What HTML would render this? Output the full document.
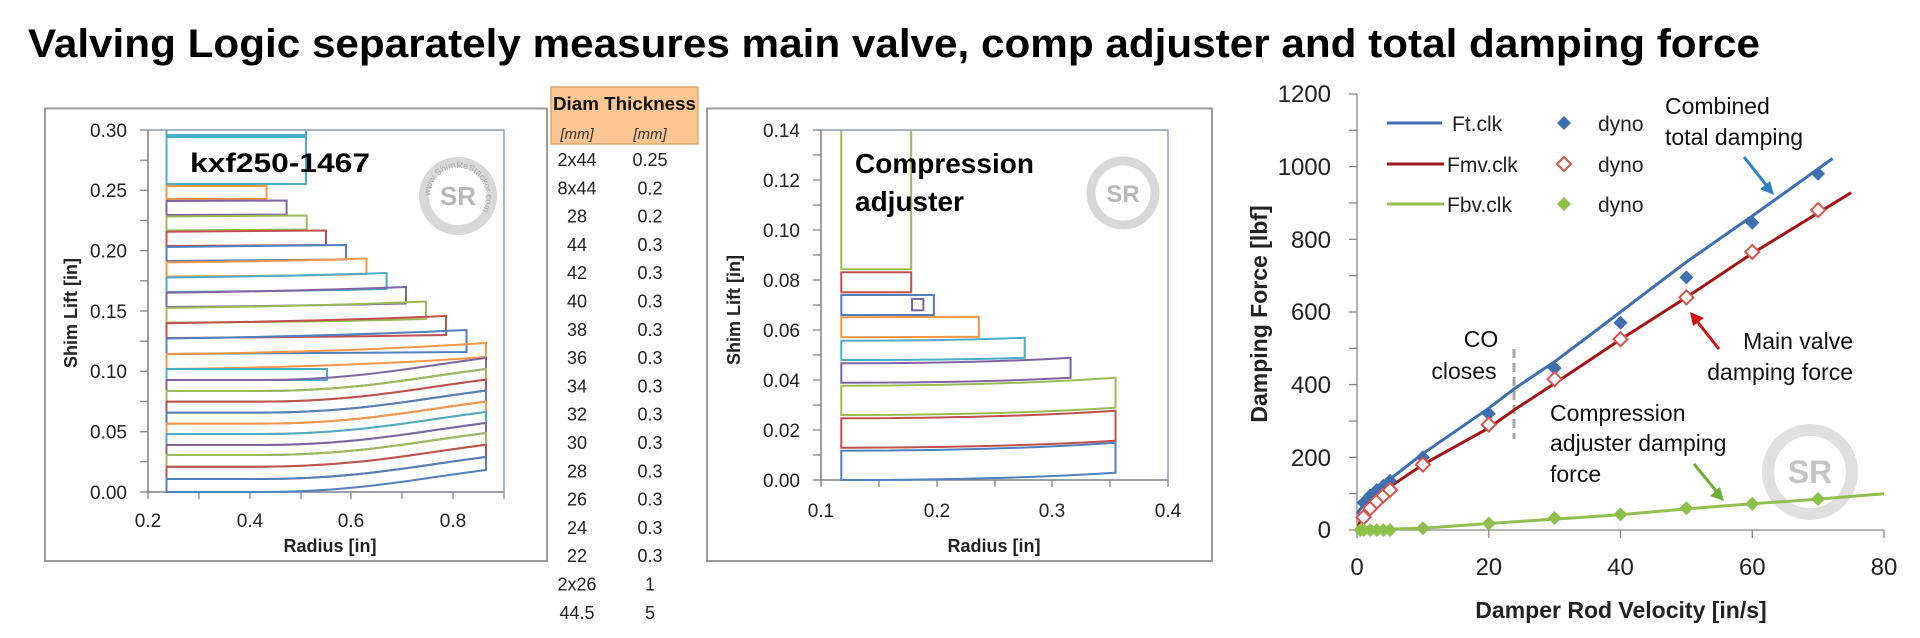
<!DOCTYPE html>
<html><head><meta charset="utf-8"><style>
html,body{margin:0;padding:0;background:#fff;}
svg{display:block;}
text{font-family:"Liberation Sans",sans-serif;}
</style></head><body>
<svg width="1920" height="638" viewBox="0 0 1920 638" xmlns="http://www.w3.org/2000/svg">
<defs>
<path id="dm" d="M0,-7 L7,0 L0,7 L-7,0Z"/>
<path id="ring1" d="M0,0 m-28,0 a28,28 0 1,1 56,0 a28,28 0 1,1 -56,0"/>
</defs>
<text x="28" y="57" font-size="40" font-weight="bold" textLength="1732" lengthAdjust="spacingAndGlyphs" fill="#000">Valving Logic separately measures main valve, comp adjuster and total damping force</text>

<rect x="45" y="108.5" width="502" height="452.5" fill="#fff" stroke="#9a9a9a" stroke-width="2"/>
<rect x="148" y="130" width="356" height="362" fill="none" stroke="#8a9bb5" stroke-width="1.5"/>
<g stroke="#868686" stroke-width="1.3">
<line x1="148" y1="130" x2="148" y2="492"/>
<line x1="148" y1="492" x2="504" y2="492"/>
<line x1="140" y1="130" x2="148" y2="130"/><line x1="140" y1="160.2" x2="148" y2="160.2"/>
<line x1="140" y1="190.3" x2="148" y2="190.3"/><line x1="140" y1="220.5" x2="148" y2="220.5"/>
<line x1="140" y1="250.7" x2="148" y2="250.7"/><line x1="140" y1="280.8" x2="148" y2="280.8"/>
<line x1="140" y1="311" x2="148" y2="311"/><line x1="140" y1="341.2" x2="148" y2="341.2"/>
<line x1="140" y1="371.3" x2="148" y2="371.3"/><line x1="140" y1="401.5" x2="148" y2="401.5"/>
<line x1="140" y1="431.7" x2="148" y2="431.7"/><line x1="140" y1="461.8" x2="148" y2="461.8"/>
<line x1="140" y1="492" x2="148" y2="492"/>
<line x1="148" y1="492" x2="148" y2="499"/><line x1="199" y1="492" x2="199" y2="499"/>
<line x1="250" y1="492" x2="250" y2="499"/><line x1="301" y1="492" x2="301" y2="499"/>
<line x1="351" y1="492" x2="351" y2="499"/><line x1="402" y1="492" x2="402" y2="499"/>
<line x1="453" y1="492" x2="453" y2="499"/><line x1="504" y1="492" x2="504" y2="499"/>
</g>
<g font-size="19" fill="#222" text-anchor="end">
<text x="127" y="137">0.30</text><text x="127" y="197">0.25</text><text x="127" y="257.5">0.20</text>
<text x="127" y="318">0.15</text><text x="127" y="378">0.10</text><text x="127" y="438.5">0.05</text>
<text x="127" y="499">0.00</text>
</g>
<g font-size="19" fill="#222" text-anchor="middle">
<text x="148" y="527">0.2</text><text x="250" y="527">0.4</text><text x="351" y="527">0.6</text><text x="453" y="527">0.8</text>
</g>
<text x="330" y="552" font-size="18" font-weight="bold" text-anchor="middle" fill="#222">Radius [in]</text>
<text transform="translate(77,313) rotate(-90)" font-size="18" font-weight="bold" text-anchor="middle" fill="#222">Shim Lift [in]</text>

<g fill="none" stroke-width="2">
<path d="M166.5,130 L166.5,135 L306,135 L306,130" stroke="#4BACC6"/>
<rect x="166.5" y="137" width="139.5" height="47" stroke="#4BACC6"/>
<path d="M166.5,186 L266.5,186 L266.5,199 L166.5,199Z" stroke="#F79646"/>
<path d="M166.5,201 L286.6,200.5 L286.6,214.5 L166.5,215Z" stroke="#8064A2"/>
<path d="M166.5,216.5 L306.7,215.5 L306.7,229.5 L166.5,230.5Z" stroke="#9BBB59"/>
<path d="M166.5,231.7 L326,230.5 L326,245 L166.5,246Z" stroke="#C0504D"/>
<path d="M166.5,247 L346,245 L346,259.5 L166.5,261Z" stroke="#4F81BD"/>
<path d="M166.5,262.3 Q300,261 366.5,258.5 L366.5,274 Q300,276 166.5,276.5Z" stroke="#F79646"/>
<path d="M166.5,277.5 Q300,276 386.6,273 L386.6,289 Q300,291 166.5,292Z" stroke="#4BACC6"/>
<path d="M166.5,292.8 Q300,291 406,287 L406,303.5 Q300,306 166.5,307Z" stroke="#8064A2"/>
<path d="M166.5,308 Q320,306 426,301.5 L426,319 Q320,322 166.5,322.5Z" stroke="#9BBB59"/>
<path d="M166.5,323.3 Q330,321 446,316 L446,335 Q330,337 166.5,338Z" stroke="#C0504D"/>
<path d="M166.5,338.5 Q340,336 466.5,330 L466.5,352 Q340,353 166.5,354Z" stroke="#4F81BD"/>
<path d="M166.5,354 Q350,352 486,343 L486,357 Q350,367 166.5,369Z" stroke="#F79646"/>
<path d="M166.5,369 L327,369 L327,380 L166.5,380Z" stroke="#4BACC6"/>
<path d="M166.5,380 L260,380 C360,380 420,366 486,358 L486,369 C420,377 360,391 260,391 L166.5,391Z" stroke="#8064A2"/>
<path d="M166.5,391 L260,391 C360,391 420,377 486,369 L486,379.6 C420,387.6 360,401.6 260,401.6 L166.5,401.6Z" stroke="#9BBB59"/>
<path d="M166.5,401.6 L260,401.6 C360,401.6 420,387.6 486,379.6 L486,390.6 C420,398.6 360,412.6 260,412.6 L166.5,412.6Z" stroke="#C0504D"/>
<path d="M166.5,412.6 L260,412.6 C360,412.6 420,398.6 486,390.6 L486,401.6 C420,409.6 360,423.6 260,423.6 L166.5,423.6Z" stroke="#4F81BD"/>
<path d="M166.5,423.6 L260,423.6 C360,423.6 420,409.6 486,401.6 L486,412 C420,420 360,434 260,434 L166.5,434Z" stroke="#F79646"/>
<path d="M166.5,434 L260,434 C360,434 420,420 486,412 L486,423 C420,431 360,445 260,445 L166.5,445Z" stroke="#4BACC6"/>
<path d="M166.5,445 L260,445 C360,445 420,431 486,423 L486,433 C420,441 360,455 260,455 L166.5,455Z" stroke="#8064A2"/>
<path d="M166.5,455 L260,455 C360,455 420,441 486,433 L486,444.7 C420,452.7 360,466.7 260,466.7 L166.5,466.7Z" stroke="#9BBB59"/>
<path d="M166.5,466.7 L260,466.7 C360,466.7 420,452.7 486,444.7 L486,457 C420,465 360,479 260,479 L166.5,479Z" stroke="#C0504D"/>
<path d="M166.5,479 L260,479 C360,479 420,465 486,457 L486,470 C420,478 360,492 260,492 L166.5,492Z" stroke="#4F81BD"/>
</g>
<text x="190" y="172" font-size="27" font-weight="bold" fill="#000" textLength="180" lengthAdjust="spacingAndGlyphs">kxf250-1467</text>
<g transform="translate(458,196)" fill="#b8b8b8">
<circle r="34" fill="none" stroke="#d8d8d8" stroke-width="10"/>
<text x="0" y="9" font-size="26" font-weight="bold" text-anchor="middle">SR</text>
<text font-size="9" fill="#a8a8a8"><textPath href="#ring1">www.ShimReStackor.com</textPath></text>
</g>

<rect x="551" y="87" width="147" height="57" fill="#FCC692" stroke="#E3A66A" stroke-width="1.5"/>
<text x="553" y="110" font-size="18" font-weight="bold" fill="#111" textLength="143" lengthAdjust="spacingAndGlyphs">Diam Thickness</text>
<g font-family="Liberation Serif,serif" font-style="italic" font-size="15" fill="#333" text-anchor="middle">
<text x="577" y="139">[mm]</text><text x="650" y="139">[mm]</text>
</g>
<g font-size="18" fill="#222" text-anchor="middle">
<text x="577" y="166">2x44</text><text x="650" y="166">0.25</text>
<text x="577" y="194.3">8x44</text><text x="650" y="194.3">0.2</text>
<text x="577" y="222.6">28</text><text x="650" y="222.6">0.2</text>
<text x="577" y="250.9">44</text><text x="650" y="250.9">0.3</text>
<text x="577" y="279.2">42</text><text x="650" y="279.2">0.3</text>
<text x="577" y="307.5">40</text><text x="650" y="307.5">0.3</text>
<text x="577" y="335.8">38</text><text x="650" y="335.8">0.3</text>
<text x="577" y="364.1">36</text><text x="650" y="364.1">0.3</text>
<text x="577" y="392.4">34</text><text x="650" y="392.4">0.3</text>
<text x="577" y="420.7">32</text><text x="650" y="420.7">0.3</text>
<text x="577" y="449">30</text><text x="650" y="449">0.3</text>
<text x="577" y="477.3">28</text><text x="650" y="477.3">0.3</text>
<text x="577" y="505.6">26</text><text x="650" y="505.6">0.3</text>
<text x="577" y="533.9">24</text><text x="650" y="533.9">0.3</text>
<text x="577" y="562.2">22</text><text x="650" y="562.2">0.3</text>
<text x="577" y="590.5">2x26</text><text x="650" y="590.5">1</text>
<text x="577" y="618.8">44.5</text><text x="650" y="618.8">5</text>
</g>

<rect x="707" y="108.5" width="505" height="452.5" fill="#fff" stroke="#9a9a9a" stroke-width="2"/>
<rect x="821" y="130" width="347" height="350" fill="none" stroke="#8a9bb5" stroke-width="1.5"/>
<g stroke="#868686" stroke-width="1.3">
<line x1="821" y1="130" x2="821" y2="480"/><line x1="821" y1="480" x2="1168" y2="480"/>
<line x1="813" y1="130" x2="821" y2="130"/><line x1="813" y1="155" x2="821" y2="155"/>
<line x1="813" y1="180" x2="821" y2="180"/><line x1="813" y1="205" x2="821" y2="205"/>
<line x1="813" y1="230" x2="821" y2="230"/><line x1="813" y1="255" x2="821" y2="255"/>
<line x1="813" y1="280" x2="821" y2="280"/><line x1="813" y1="305" x2="821" y2="305"/>
<line x1="813" y1="330" x2="821" y2="330"/><line x1="813" y1="355" x2="821" y2="355"/>
<line x1="813" y1="380" x2="821" y2="380"/><line x1="813" y1="405" x2="821" y2="405"/>
<line x1="813" y1="430" x2="821" y2="430"/><line x1="813" y1="455" x2="821" y2="455"/>
<line x1="813" y1="480" x2="821" y2="480"/>
<line x1="821" y1="480" x2="821" y2="487"/><line x1="879" y1="480" x2="879" y2="487"/>
<line x1="937" y1="480" x2="937" y2="487"/><line x1="995" y1="480" x2="995" y2="487"/>
<line x1="1052" y1="480" x2="1052" y2="487"/><line x1="1110" y1="480" x2="1110" y2="487"/>
<line x1="1168" y1="480" x2="1168" y2="487"/>
</g>
<g font-size="19" fill="#222" text-anchor="end">
<text x="800" y="137">0.14</text><text x="800" y="187">0.12</text><text x="800" y="237">0.10</text>
<text x="800" y="287">0.08</text><text x="800" y="337">0.06</text><text x="800" y="387">0.04</text>
<text x="800" y="437">0.02</text><text x="800" y="487">0.00</text>
</g>
<g font-size="19" fill="#222" text-anchor="middle">
<text x="821" y="517">0.1</text><text x="937" y="517">0.2</text><text x="1052" y="517">0.3</text><text x="1168" y="517">0.4</text>
</g>
<text x="994" y="552" font-size="18" font-weight="bold" text-anchor="middle" fill="#222">Radius [in]</text>
<text transform="translate(740,310) rotate(-90)" font-size="18" font-weight="bold" text-anchor="middle" fill="#222">Shim Lift [in]</text>
<g fill="none" stroke-width="2">
<path d="M841.3,480 Q1000,480 1115.5,472.7 L1115.5,442.7 Q1000,450.7 841.3,450.7Z" stroke="#4F81BD"/>
<path d="M841.3,447.7 Q1000,447.7 1115.5,440.7 L1115.5,410.7 Q1000,418.3 841.3,418.3Z" stroke="#C0504D"/>
<path d="M841.3,415 Q1000,415 1115.5,407.7 L1115.5,377.7 Q1000,385.7 841.3,385.7Z" stroke="#9BBB59"/>
<path d="M841.3,382.7 Q980,382.7 1070.6,377.7 L1070.6,357.7 Q980,363.3 841.3,363.3Z" stroke="#8064A2"/>
<path d="M841.3,360 Q960,360 1024.7,357.7 L1024.7,337.7 Q960,340.7 841.3,340.7Z" stroke="#4BACC6"/>
<path d="M841.3,337.3 L978.9,336.7 L978.9,316.7 L841.3,317.3Z" stroke="#F79646"/>
<rect x="841.3" y="295" width="92.6" height="20" stroke="#4F81BD"/>
<rect x="912" y="299" width="11.4" height="11.3" stroke="#8064A2"/>
<rect x="841.3" y="272.3" width="69.9" height="20" stroke="#C0504D"/>
<path d="M841.3,130 L841.3,269.3 L911.2,269.3 L911.2,130" stroke="#9BBB59"/>
</g>
<text x="855" y="173" font-size="28" font-weight="bold" fill="#000">Compression</text>
<text x="855" y="211" font-size="28" font-weight="bold" fill="#000">adjuster</text>
<g transform="translate(1123,193)" fill="#b8b8b8">
<circle r="32" fill="none" stroke="#d8d8d8" stroke-width="9"/>
<text x="0" y="9" font-size="24" font-weight="bold" text-anchor="middle">SR</text>
</g>

<g transform="translate(1810,472)" fill="#c4c4c4">
<circle r="42" fill="none" stroke="#e0e0e0" stroke-width="12"/>
<text x="0" y="11" font-size="32" font-weight="bold" text-anchor="middle">SR</text>
</g>
<g stroke="#868686" stroke-width="1.3">
<line x1="1357" y1="94" x2="1357" y2="530"/><line x1="1357" y1="530" x2="1884" y2="530"/>
<line x1="1349" y1="94" x2="1357" y2="94"/><line x1="1349" y1="130.3" x2="1357" y2="130.3"/>
<line x1="1349" y1="166.6" x2="1357" y2="166.6"/><line x1="1349" y1="203" x2="1357" y2="203"/>
<line x1="1349" y1="239.3" x2="1357" y2="239.3"/><line x1="1349" y1="275.6" x2="1357" y2="275.6"/>
<line x1="1349" y1="312" x2="1357" y2="312"/><line x1="1349" y1="348.3" x2="1357" y2="348.3"/>
<line x1="1349" y1="384.6" x2="1357" y2="384.6"/><line x1="1349" y1="421" x2="1357" y2="421"/>
<line x1="1349" y1="457.3" x2="1357" y2="457.3"/><line x1="1349" y1="493.6" x2="1357" y2="493.6"/>
<line x1="1349" y1="530" x2="1357" y2="530"/>
<line x1="1357" y1="530" x2="1357" y2="538"/><line x1="1488.8" y1="530" x2="1488.8" y2="538"/>
<line x1="1620.5" y1="530" x2="1620.5" y2="538"/><line x1="1752.3" y1="530" x2="1752.3" y2="538"/>
<line x1="1884" y1="530" x2="1884" y2="538"/>
</g>
<g font-size="24" fill="#222" text-anchor="end">
<text x="1331" y="102">1200</text><text x="1331" y="175">1000</text><text x="1331" y="248">800</text>
<text x="1331" y="320">600</text><text x="1331" y="393">400</text><text x="1331" y="466">200</text>
<text x="1331" y="538">0</text>
</g>
<g font-size="24" fill="#222" text-anchor="middle">
<text x="1357" y="575">0</text><text x="1488.8" y="575">20</text><text x="1620.5" y="575">40</text>
<text x="1752.3" y="575">60</text><text x="1884" y="575">80</text>
</g>
<text x="1621" y="618" font-size="23" font-weight="bold" text-anchor="middle" fill="#222">Damper Rod Velocity [in/s]</text>
<text transform="translate(1267,314) rotate(-90)" font-size="23" font-weight="bold" text-anchor="middle" fill="#222">Damping Force [lbf]</text>

<line x1="1514" y1="349" x2="1514" y2="439" stroke="#a6a6a6" stroke-width="3" stroke-dasharray="9,5"/>

<g fill="none" stroke-width="3" stroke-linejoin="round">
<polyline stroke="#3E6FB0" points="1357,513.6 1363.6,504.6 1370.2,498 1390,479.1 1422.9,453.7 1488.8,408.2 1515.1,388.2 1554.6,361.7 1587.5,337 1620.5,311.9 1686.4,262 1752.3,216 1832.6,158.5"/>
<polyline stroke="#A31515" points="1357,530 1363.6,512.2 1370.2,504.6 1390,486.7 1422.9,464.6 1488.8,427.9 1515.1,409.3 1554.6,383.5 1620.5,339.5 1686.4,297.4 1752.3,253.4 1851.1,192.7"/>
<polyline stroke="#92C050" points="1357,530 1422.9,528.2 1488.8,523.5 1554.6,519.1 1620.5,514.7 1686.4,508.9 1752.3,503.8 1818.1,499.1 1884,493.7"/>
</g>
<g fill="#3E6FB0">
<use href="#dm" x="1363.6" y="502.7"/><use href="#dm" x="1370.2" y="495.5"/><use href="#dm" x="1376.8" y="490"/>
<use href="#dm" x="1383.4" y="485.7"/><use href="#dm" x="1390" y="480.9"/><use href="#dm" x="1422.9" y="457.3"/>
<use href="#dm" x="1488.8" y="413.7"/><use href="#dm" x="1554.6" y="368.2"/><use href="#dm" x="1620.5" y="322.8"/>
<use href="#dm" x="1686.4" y="277.4"/><use href="#dm" x="1752.3" y="222.8"/><use href="#dm" x="1818.1" y="173.8"/>
</g>
<g fill="#fff" stroke="#D9534F" stroke-width="2">
<use href="#dm" x="1363.6" y="517.3"/><use href="#dm" x="1370.2" y="508.2"/><use href="#dm" x="1376.8" y="501.6"/>
<use href="#dm" x="1383.4" y="495.5"/><use href="#dm" x="1390" y="490"/><use href="#dm" x="1422.9" y="464.6"/>
<use href="#dm" x="1488.8" y="424.6"/><use href="#dm" x="1554.6" y="379.1"/><use href="#dm" x="1620.5" y="339.2"/>
<use href="#dm" x="1686.4" y="297.4"/><use href="#dm" x="1752.3" y="251.9"/><use href="#dm" x="1818.1" y="210.1"/>
</g>
<g fill="#8DC04A">
<use href="#dm" x="1360.3" y="530"/><use href="#dm" x="1363.6" y="530"/><use href="#dm" x="1370.2" y="530"/>
<use href="#dm" x="1376.8" y="530"/><use href="#dm" x="1383.4" y="530"/><use href="#dm" x="1390" y="530"/>
<use href="#dm" x="1422.9" y="528.2"/><use href="#dm" x="1488.8" y="523.5"/><use href="#dm" x="1554.6" y="518"/>
<use href="#dm" x="1620.5" y="514.4"/><use href="#dm" x="1686.4" y="508.2"/><use href="#dm" x="1752.3" y="503.8"/>
<use href="#dm" x="1818.1" y="499.1"/>
</g>
<g stroke-width="3">
<line x1="1387" y1="123" x2="1442" y2="123" stroke="#3E6FB0"/>
<line x1="1387" y1="164" x2="1444" y2="164" stroke="#A31515"/>
<line x1="1387" y1="204" x2="1444" y2="204" stroke="#92C050"/>
</g>
<g font-size="21" fill="#222">
<text x="1452" y="131">Ft.clk</text><text x="1447" y="172">Fmv.clk</text><text x="1447" y="212">Fbv.clk</text>
<text x="1598" y="131">dyno</text><text x="1598" y="172">dyno</text><text x="1598" y="212">dyno</text>
</g>
<use href="#dm" x="1564" y="123" fill="#3E6FB0"/>
<use href="#dm" x="1564" y="164" fill="#fff" stroke="#D9534F" stroke-width="2"/>
<use href="#dm" x="1564" y="204" fill="#8DC04A"/>
<g font-size="23" fill="#111">
<text x="1665" y="114">Combined</text><text x="1665" y="145">total damping</text>
<text x="1481" y="347" text-anchor="middle">CO</text><text x="1464" y="379" text-anchor="middle">closes</text>
<text x="1853" y="349" text-anchor="end">Main valve</text><text x="1853" y="380" text-anchor="end">damping force</text>
<text x="1550" y="421">Compression</text><text x="1550" y="451">adjuster damping</text><text x="1550" y="482">force</text>
</g>
<g stroke-width="3">
<line x1="1744" y1="157" x2="1767" y2="186" stroke="#2F7FC1"/>
<line x1="1719" y1="349" x2="1696" y2="320" stroke="#D01010"/>
<line x1="1694" y1="464" x2="1717" y2="492" stroke="#6FAE3A"/>
</g>
<path d="M1774,195 L1760,189 L1770,181Z" fill="#2F7FC1"/>
<path d="M1690,312 L1704,318 L1693,326Z" fill="#D01010"/>
<path d="M1724,501 L1710,496 L1720,487Z" fill="#6FAE3A"/>
</svg>
</body></html>
